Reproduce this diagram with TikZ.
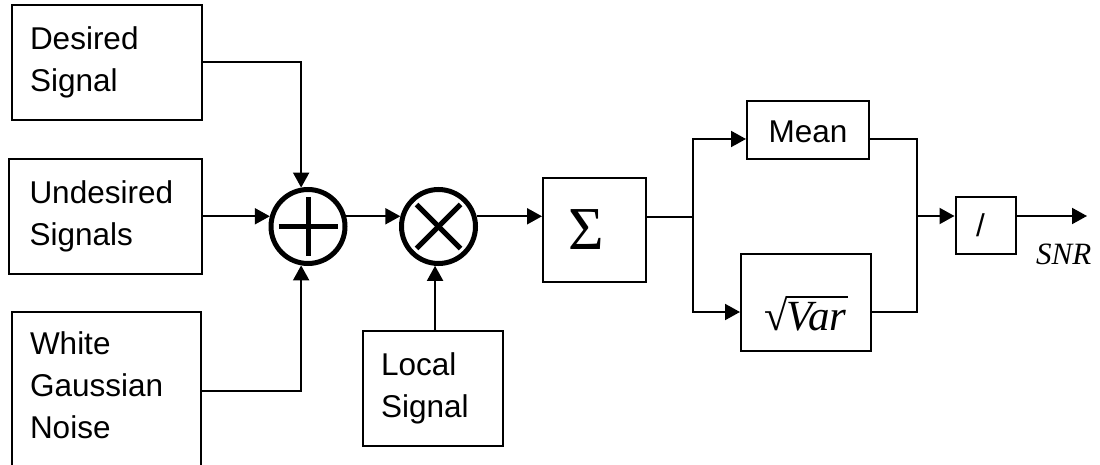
\documentclass[tikz,border=0pt]{standalone}
\usepackage{fontspec}
\setmainfont{Liberation Sans}
\newfontfamily\tms{Liberation Serif}
\usetikzlibrary{arrows.meta}
\newsavebox\radbox
\begin{document}
\begin{tikzpicture}[x=1pt,y=-1pt,
  box/.style={draw, line width=2pt, rectangle, inner sep=0pt, font=\fontsize{31.5}{41.5}\selectfont},
  tbox/.style={box, align=left, inner xsep=18pt, text width=#1},
  wire/.style={line width=2pt},
  arr/.style={wire, -{Triangle[length=15pt,width=16pt]}},
  junc/.style={circle, draw, line width=5pt, inner sep=0pt, minimum size=74pt},
  bar/.style={line width=5pt}]
\useasboundingbox (0,0) rectangle (1100,465);

% input boxes
\node[tbox=154pt, minimum height=115pt] (des) at (107,62.5) {Desired\\Signal};
\node[tbox=152pt, inner xsep=20.5pt, minimum height=115pt] (und) at (105.5,216.5) {Undesired\\Signals};
\node[tbox=153pt, minimum height=158pt, text depth=96pt, font=\fontsize{31.5}{42}\selectfont] (wgn) at (106.5,391) {White\\Gaussian\\Noise};
\node[tbox=104pt, minimum height=115pt] (loc) at (433,388.5) {Local\\Signal};

% processing boxes
\node[box, minimum width=103pt, minimum height=104pt, font=\tms\fontsize{61}{64}\selectfont] (sig) at (594.5,230) {\kern-16pt Σ};
\node[box, minimum width=122pt, minimum height=58pt, text height=26pt, text depth=0pt] (mean) at (808,130) {Mean};
\node[box, minimum width=130pt, minimum height=97pt, text height=55pt, text depth=0pt, font=\tms\fontsize{43}{50}\selectfont] (var) at (806,302.5)
  {\sbox\radbox{√}\usebox\radbox\kern-1pt\vbox to \ht\radbox{\hrule height 1.8pt\vfil\hbox{\itshape Var\kern1pt}}};
\node[box, minimum width=60pt, minimum height=57pt] (div) at (985.5,225.5) {\kern-10pt /};

% adder and mixer
\node[junc] (sum) at (308,226.5) {};
\draw[bar] ([xshift=-29.5pt]sum.center) -- ([xshift=29.5pt]sum.center);
\draw[bar] ([yshift=29.5pt]sum.center) -- ([yshift=-29.5pt]sum.center);
\node[junc] (mul) at (438.5,226.5) {};
\draw[bar] ([shift={(-22pt,-22pt)}]mul.center) -- ([shift={(22pt,22pt)}]mul.center);
\draw[bar] ([shift={(-22pt,22pt)}]mul.center) -- ([shift={(22pt,-22pt)}]mul.center);

% connectors
\draw[arr] (des.east) -| (sum.100);
\draw[arr] (sum.165 -| und.east) -- (sum.165);
\draw[arr] (wgn.east) -| (sum.260);
\draw[arr] (sum.15) -- (mul.165);
\draw[arr] (loc.north -| mul.265) -- (mul.265);
\draw[arr] (mul.15) -- (mul.15 -| sig.west);

\coordinate (j1) at (693,217);
\coordinate (j2) at (917,216);
\coordinate (out) at (1087,216);
\coordinate (ytop) at (0,139);
\coordinate (ybot) at (0,312);

\draw[wire] (j1 -| sig.east) -- (j1);
\draw[arr] (j1) |- (mean.west |- ytop);
\draw[arr] (j1) |- (var.west |- ybot);
\draw[wire] (mean.east |- ytop) -| (j2);
\draw[wire] (var.east |- ybot) -| (j2);
\draw[arr] (j2) -- (j2 -| div.west);
\draw[arr] (j2 -| div.east) -- (out);

\node[anchor=base west, inner sep=0pt, font=\tms\itshape\fontsize{31}{36}\selectfont] (snr) at (1036,264) {SNR};
\end{tikzpicture}
\end{document}
